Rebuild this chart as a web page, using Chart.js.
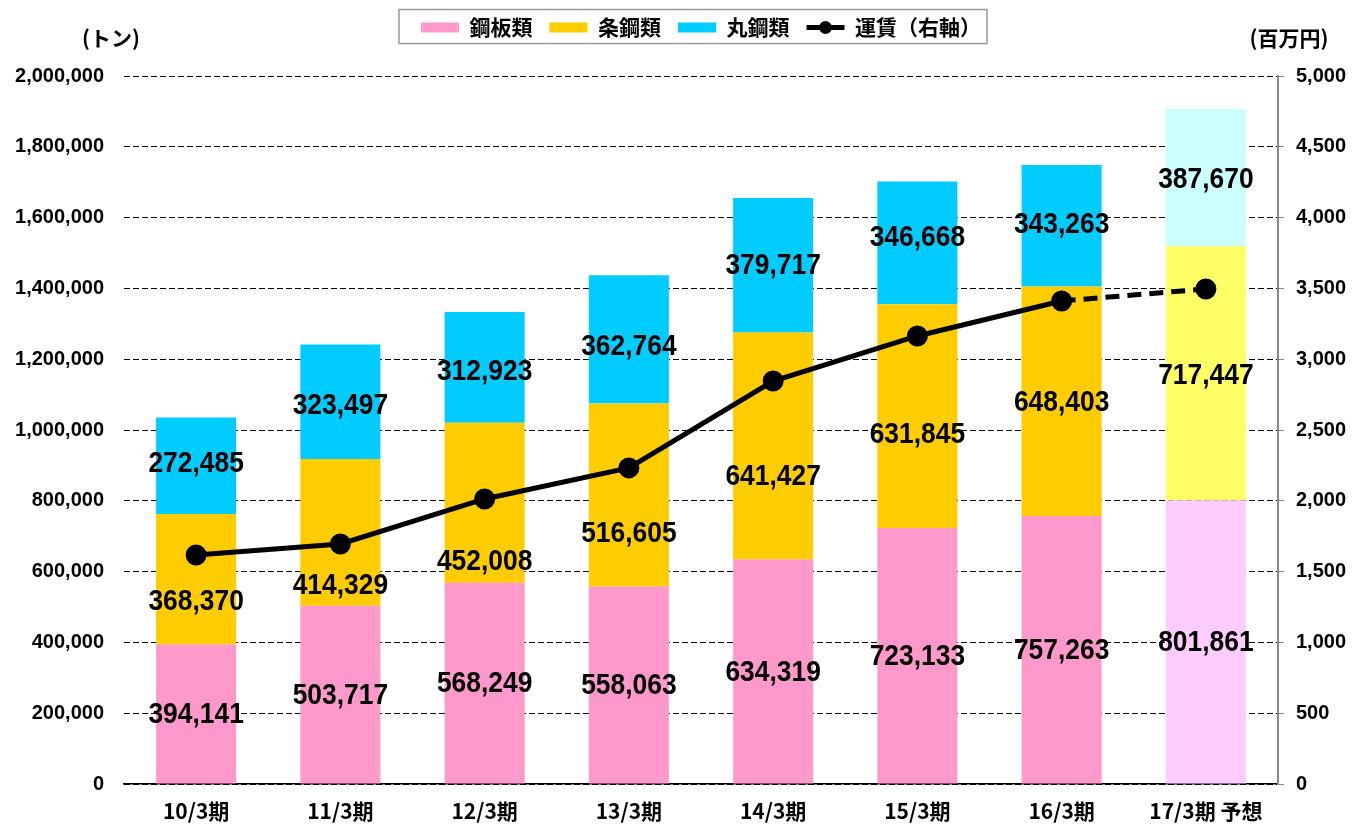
<!DOCTYPE html>
<html>
<head>
<meta charset="utf-8">
<script src="https://cdn.jsdelivr.net/npm/chart.js@4"></script>
<style>
  body { margin: 0; background: #fff; }
  #wrap { width: 1352px; height: 825px; }
</style>
</head>
<body>
<div id="wrap"><canvas id="freightChart"></canvas></div>
<script>
// Periods and tonnage by product type
const periods = ['10/3期', '11/3期', '12/3期', '13/3期', '14/3期', '15/3期', '16/3期', '17/3期 予想'];
const plateTons = [394141, 503717, 568249, 558063, 634319, 723133, 757263, 801861];
const barTons = [368370, 414329, 452008, 516605, 641427, 631845, 648403, 717447];
const roundTons = [272485, 323497, 312923, 362764, 379717, 346668, 343263, 387670];
// Freight revenue (million yen, right axis)
const freight = [1617, 1695, 2013, 2232, 2846, 3164, 3411, 3496];

const leftTicks = [0, 200000, 400000, 600000, 800000, 1000000, 1200000, 1400000, 1600000, 1800000, 2000000];
const rightTicks = [0, 500, 1000, 1500, 2000, 2500, 3000, 3500, 4000, 4500, 5000];

// last period is a forecast -> paler colours
const paint = (normal, forecast) => periods.map((p, i) => i === periods.length - 1 ? forecast : normal);

const JP = "'Noto Sans CJK JP', 'Noto Sans', sans-serif";
const NUM = "'Liberation Sans', Arial, sans-serif";

// labels inside bars; yellow ones were nudged down in the original to dodge the line
const labelNudge = {
  0: [0, 0, 0, 0, 0, 0, 0, 0],
  1: [21, 52, 58, 38, 30, 18, 1, 2],
  2: [-3, 3, 3, 6, 0, -6, -2, 1]
};

const barLabels = {
  id: 'barLabels',
  afterDatasetsDraw(chart) {
    const ctx = chart.ctx;
    ctx.save();
    ctx.font = 'bold 30px ' + NUM;
    ctx.fillStyle = '#000';
    ctx.textAlign = 'center';
    ctx.textBaseline = 'middle';
    [0, 1, 2].forEach(di => {
      const meta = chart.getDatasetMeta(di);
      meta.data.forEach((bar, i) => {
        const v = chart.data.datasets[di].data[i];
        const cy = (bar.y + bar.base) / 2 + labelNudge[di][i];
        // squeeze horizontally to mimic a narrow face
        ctx.save();
        ctx.translate(bar.x, cy);
        ctx.scale(0.88, 1);
        ctx.fillText(v.toLocaleString('en-US'), 0, 1);
        ctx.restore();
      });
    });
    ctx.restore();
  }
};

const frame = {
  id: 'frame',
  beforeInit(chart) {
    const fit = chart.legend.fit;
    chart.legend.fit = function () {
      fit.call(this);
      this.height = 76;
    };
  },
  afterDraw(chart) {
    const ctx = chart.ctx;
    const boxes = chart.legend.legendHitBoxes;
    ctx.save();
    // border round the legend
    const first = boxes[0], last = boxes[boxes.length - 1];
    ctx.strokeStyle = '#999';
    ctx.lineWidth = 1.5;
    ctx.strokeRect(first.left - 22, 9.5, last.left + last.width - first.left + 28, 34);
    // line marker for the freight legend item
    const lb = boxes[3];
    const y = lb.top + 10.5;
    ctx.strokeStyle = '#000';
    ctx.lineWidth = 5;
    ctx.beginPath();
    ctx.moveTo(lb.left, y);
    ctx.lineTo(lb.left + 38, y);
    ctx.stroke();
    ctx.fillStyle = '#000';
    ctx.beginPath();
    ctx.arc(lb.left + 19, y, 6.5, 0, Math.PI * 2);
    ctx.fill();
    // axis unit titles
    ctx.font = 'bold 21px ' + JP;
    ctx.textAlign = 'center';
    ctx.textBaseline = 'middle';
    ctx.fillText('(トン)', 111, 38);
    ctx.fillText('(百万円)', 1289, 38);
    ctx.restore();
  }
};

new Chart(document.getElementById('freightChart'), {
  type: 'bar',
  data: {
    labels: periods,
    datasets: [
      { label: '鋼板類', data: plateTons, backgroundColor: paint('#FF99CC', '#FFCCFF'), order: 1 },
      { label: '条鋼類', data: barTons, backgroundColor: paint('#FFCC00', '#FFFF66'), order: 1 },
      { label: '丸鋼類', data: roundTons, backgroundColor: paint('#00CCFF', '#CCFFFF'), order: 1 },
      {
        label: '運賃（右軸）',
        type: 'line',
        data: freight,
        yAxisID: 'y1',
        borderColor: '#000',
        backgroundColor: '#000',
        borderWidth: 5,
        pointRadius: 8,
        pointBackgroundColor: '#000',
        order: 0,
        segment: {
          borderDash: ctx => ctx.p1DataIndex === periods.length - 1 ? [14, 8] : undefined
        }
      }
    ]
  },
  options: {
    responsive: true,
    maintainAspectRatio: false,
    animation: false,
    layout: { padding: 0 },
    datasets: { bar: { barPercentage: 0.555, categoryPercentage: 1 } },
    plugins: {
      tooltip: { enabled: false },
      legend: {
        position: 'top',
        fullSize: false,
        labels: {
          boxWidth: 38,
          boxHeight: 10,
          padding: 17,
          color: '#000',
          font: { family: JP, size: 21, weight: 'bold' },
          sort: (a, b) => a.datasetIndex - b.datasetIndex,
          generateLabels(chart) {
            const items = Chart.defaults.plugins.legend.labels.generateLabels(chart);
            items.forEach(it => {
              const ds = chart.data.datasets[it.datasetIndex];
              if (ds.type === 'line') {
                it.fillStyle = 'rgba(0,0,0,0)';
                it.strokeStyle = 'rgba(0,0,0,0)';
                it.lineWidth = 0;
              } else {
                it.fillStyle = ds.backgroundColor[0];
                it.strokeStyle = ds.backgroundColor[0];
                it.lineWidth = 0;
              }
            });
            return items;
          }
        }
      }
    },
    scales: {
      x: {
        stacked: true,
        afterFit: s => { s.height = 41; },
        grid: { display: false },
        border: { color: '#000', width: 1.5 },
        ticks: { color: '#000', padding: 6, font: { family: JP, size: 21, weight: 'bold' } }
      },
      y: {
        stacked: true,
        min: 0,
        max: 2000000,
        afterBuildTicks: s => { s.ticks = leftTicks.map(v => ({ value: v })); },
        afterFit: s => { s.width = 124; },
        border: { display: false, dash: [6, 3] },
        grid: { color: '#000', lineWidth: 1, drawTicks: false },
        ticks: {
          color: '#000',
          padding: 20,
          font: { family: NUM, size: 20, weight: 'bold' },
          callback: v => v.toLocaleString('en-US')
        }
      },
      y1: {
        position: 'right',
        min: 0,
        max: 5000,
        afterBuildTicks: s => { s.ticks = rightTicks.map(v => ({ value: v })); },
        afterFit: s => { s.width = 74; },
        border: { color: '#888', width: 2 },
        grid: { drawOnChartArea: false, color: '#888', tickLength: 6 },
        ticks: {
          color: '#000',
          padding: 12,
          font: { family: NUM, size: 20, weight: 'bold' },
          callback: v => v.toLocaleString('en-US')
        }
      }
    }
  },
  plugins: [barLabels, frame]
});
</script>
</body>
</html>
